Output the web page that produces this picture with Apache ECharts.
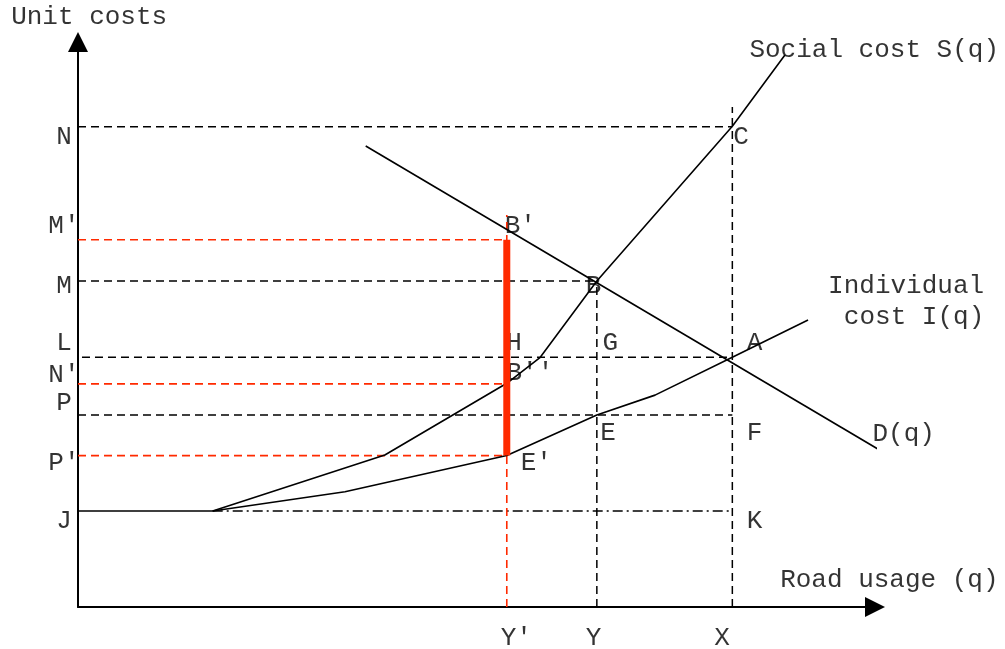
<!DOCTYPE html>
<html>
<head>
<meta charset="utf-8">
<script src="https://cdn.jsdelivr.net/npm/echarts@6/dist/echarts.min.js"></script>
<style>
  html, body { margin: 0; padding: 0; background: #fff; }
  #main { width: 1005px; height: 649px; }
</style>
</head>
<body>
<div id="main"></div>
<script>
// curves (q, unit cost) in a 0..100 diagram space
var socialCost = [[0, 17], [16.9, 17], [38.5, 26.9], [53.8, 39.6], [58, 44.2], [65.1, 57.7], [82.1, 85.1], [88.7, 97.7]];
var individualCost = [[16.9, 17], [33.5, 20.4], [53.8, 26.8], [65.1, 34], [72.4, 37.5], [82.1, 44.2], [91.6, 50.8]];
var demand = [[36.1, 81.6], [101.4, 27.1]];

// quantities on the q axis: Y', Y, X
var qMarks = [53.8, 65.1, 82.1];
var qNames = ['Y′', 'Y', 'X'];

// cost levels on the vertical axis
var levelNames = ['N', 'M′', 'M', 'L', 'N′', 'P', 'P′', 'J'];
var levelValues = [85, 65, 57.7, 44.2, 39.5, 34, 26.8, 17];
var levelLabelY = [83.2, 67.4, 56.8, 46.7, 41.1, 36.1, 25.5, 15.2];

// point letters [q, cost, text]
var pointLabels = [
  [83.2, 83.2, 'C'], [55.5, 67.4, 'B′'], [64.7, 56.8, 'B'], [54.7, 46.7, 'H'],
  [66.8, 46.7, 'G'], [84.9, 46.7, 'A'], [56.7, 41.4, 'B′′'], [66.5, 30.8, 'E'],
  [84.9, 30.8, 'F'], [57.5, 25.5, 'E′'], [84.9, 15.2, 'K']
];
var titleLabels = [
  [1.4, 104.4, 'Unit costs'], [99.9, 98.6, 'Social cost S(q)'],
  [103.9, 56.8, 'Individual'], [104.9, 51.3, 'cost I(q)'],
  [103.6, 30.6, 'D(q)'], [101.8, 4.8, 'Road usage (q)']
];

var FONT = 'Liberation Mono';
var myChart = echarts.init(document.getElementById('main'));

function seg(data, color, width, type) {
  return {
    type: 'line', data: data, showSymbol: false, silent: true, clip: false,
    lineStyle: {color: color, width: width, type: type || 'solid'}
  };
}
function txt(data) {
  return {
    type: 'scatter', data: data, symbolSize: 0, silent: true, clip: false,
    label: {
      show: true, position: 'inside', color: '#000', fontFamily: FONT, fontSize: 26,
      formatter: function (p) { return p.data[2]; }
    }
  };
}

var qYp = qMarks[0], qY = qMarks[1], qX = qMarks[2];
var lv = {};
levelNames.forEach(function (n, i) { lv[n] = levelValues[i]; });
var dash = [8, 5];

var series = [
  // black dashed guides
  seg([[0, lv['N']], [qX, lv['N']]], '#000', 1.5, dash),
  seg([[0, lv['M']], [qY, lv['M']]], '#000', 1.5, dash),
  seg([[0.5, lv['L']], [qX, lv['L']]], '#000', 1.5, dash),
  seg([[0, lv['P']], [qX, lv['P']]], '#000', 1.5, dash),
  seg([[qY, 0], [qY, lv['M']]], '#000', 1.5, dash),
  seg([[qX, 0], [qX, 88.5]], '#000', 1.5, dash),
  seg([[16.9, lv['J']], [qX, lv['J']]], '#000', 1.5, [10, 4, 2, 4]),
  // red dashed guides
  seg([[0, lv['M′']], [qYp, lv['M′']]], '#ff2a00', 1.6, dash),
  seg([[0, lv['N′']], [qYp, lv['N′']]], '#ff2a00', 1.6, dash),
  seg([[0, lv['P′']], [qYp, lv['P′']]], '#ff2a00', 1.6, dash),
  seg([[qYp, 0], [qYp, 69.4]], '#ff2a00', 1.6, dash),
  // curves
  seg(socialCost, '#000', 1.6),
  seg(individualCost, '#000', 1.6),
  seg(demand, '#000', 1.6),
  // toll gap
  seg([[qYp, lv['P′']], [qYp, lv['M′']]], '#ff2a00', 7),
  txt(levelNames.map(function (n, i) { return [-1.76, levelLabelY[i], n]; })),
  txt(pointLabels),
  txt(qNames.map(function (n, i) { return [qMarks[i] + [1.2, -0.4, -1.3][i], -5.5, n]; })),
  txt(titleLabels)
];

var option = {
  animation: false,
  grid: {left: 78, right: 130, top: 42, bottom: 42},
  xAxis: {
    type: 'value', min: 0, max: 100,
    axisLine: {lineStyle: {color: '#000', width: 2}, symbol: ['none', 'triangle'], symbolSize: [20, 20]},
    axisTick: {show: false}, axisLabel: {show: false}, splitLine: {show: false}
  },
  yAxis: {
    type: 'value', min: 0, max: 100,
    axisLine: {show: true, lineStyle: {color: '#000', width: 2}, symbol: ['none', 'triangle'], symbolSize: [20, 20]},
    axisTick: {show: false}, axisLabel: {show: false}, splitLine: {show: false}
  },
  series: series
};

myChart.setOption(option);
</script>
</body>
</html>
